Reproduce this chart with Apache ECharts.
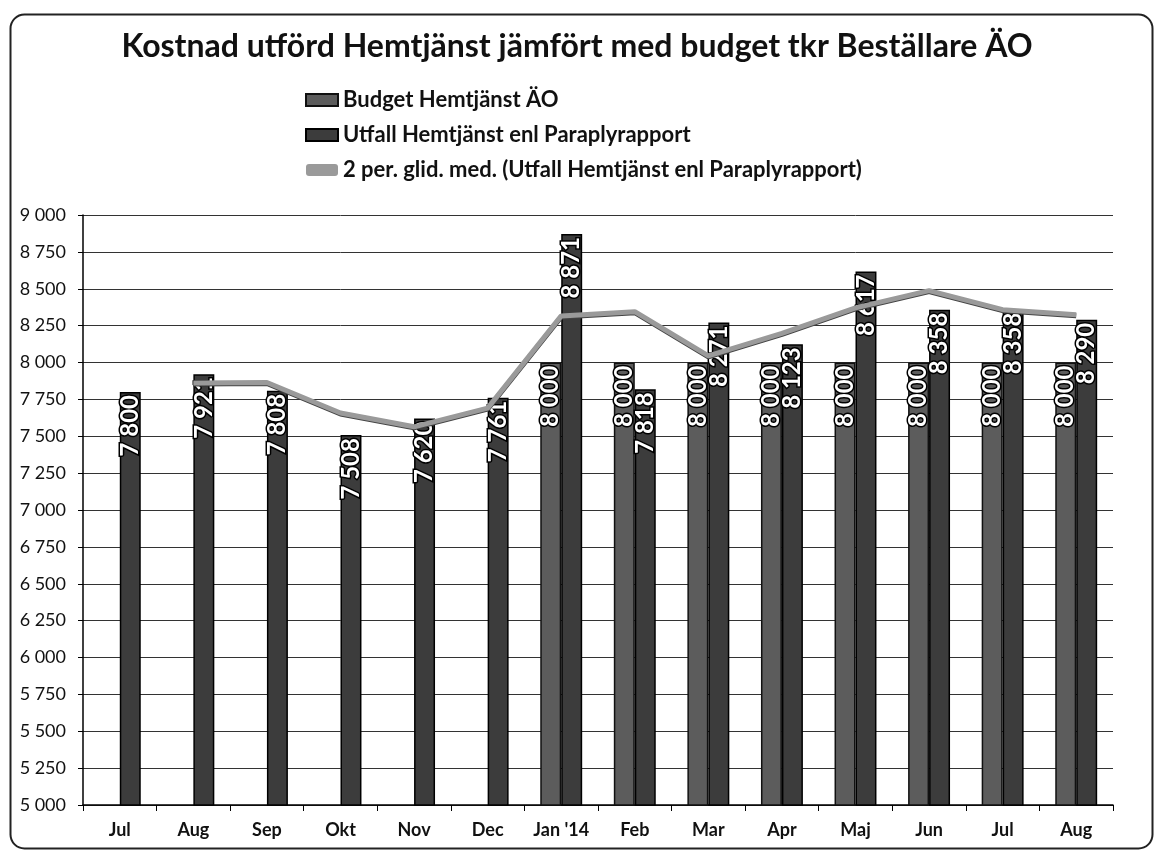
<!DOCTYPE html>
<html>
<head>
<meta charset="utf-8">
<script src="https://cdn.jsdelivr.net/npm/echarts@6/dist/echarts.min.js"></script>
<style>
html,body{margin:0;padding:0;background:#fff;}
#chart{width:1154px;height:853px;}
</style>
</head>
<body>
<div id="chart"></div>
<script>
var categories = ['Jul','Aug','Sep','Okt','Nov','Dec',"Jan '14",'Feb','Mar','Apr','Maj','Jun','Jul','Aug'];
var budget = [null,null,null,null,null,null,8000,8000,8000,8000,8000,8000,8000,8000];
var utfall = [7800,7921,7808,7508,7620,7761,8871,7818,8271,8123,8617,8358,8358,8290];
var movingAvg = [null,7860.5,7864.5,7658,7564,7690.5,8316,8344.5,8044.5,8197,8370,8487.5,8358,8324];

var FONT = 'Lato,"Noto Sans",sans-serif';
function fmt(v){ var s=String(Math.round(v)); return s.length>3 ? s.slice(0,s.length-3)+' '+s.slice(s.length-3) : s; }

var barLabel = {
  show:true, position:'insideTop', rotate:90, align:'right', verticalAlign:'middle', distance:3,
  color:'#fff', fontFamily:FONT, fontWeight:'bold', fontSize:24,
  textBorderColor:'#000', textBorderWidth:3,
  formatter:function(p){ return fmt(p.value); }
};

var chart = echarts.init(document.getElementById('chart'));
chart.setOption({
  backgroundColor:'#fff',
  animation:false,
  title:{
    text:'Kostnad utförd Hemtjänst jämfört med budget tkr Beställare ÄO',
    left:'center', top:26,
    textStyle:{fontFamily:FONT, fontWeight:'bold', fontSize:32, color:'#111'}
  },
  legend:{
    orient:'vertical', left:300, top:84, itemGap:13, itemWidth:32, itemHeight:12,
    textStyle:{fontFamily:FONT, fontWeight:'bold', fontSize:22, color:'#111'},
    data:[
      {name:'Budget Hemtjänst ÄO', icon:'rect'},
      {name:'Utfall Hemtjänst enl Paraplyrapport', icon:'rect'},
      {name:'2 per. glid. med. (Utfall Hemtjänst enl Paraplyrapport)', icon:'roundRect'}
    ]
  },
  grid:{left:83, right:41, top:215, bottom:48},
  xAxis:{
    type:'category', data:categories,
    axisLine:{lineStyle:{color:'#000', width:1.5}},
    axisTick:{show:true, length:6, lineStyle:{color:'#000'}},
    axisLabel:{fontFamily:FONT, fontWeight:'bold', fontSize:18, color:'#111', margin:16}
  },
  yAxis:{
    type:'value', min:5000, max:9000, interval:250,
    axisLine:{show:true, lineStyle:{color:'#000', width:1.5}},
    axisTick:{show:true, length:5, lineStyle:{color:'#000'}},
    axisLabel:{fontFamily:FONT, fontSize:18, color:'#111', margin:17, formatter:fmt},
    splitLine:{lineStyle:{color:'#333', width:1}}
  },
  series:[
    {name:'Budget Hemtjänst ÄO', type:'bar', data:budget, barGap:'0%', barCategoryGap:'43%',
     itemStyle:{color:'#5c5c5c', borderColor:'#111', borderWidth:1.5}, label:barLabel, z:2},
    {name:'Utfall Hemtjänst enl Paraplyrapport', type:'bar', data:utfall,
     itemStyle:{color:'#3c3c3c', borderColor:'#000', borderWidth:1.5}, label:barLabel, z:2},
    {name:'2 per. glid. med. (Utfall Hemtjänst enl Paraplyrapport)', type:'line', data:movingAvg,
     symbol:'none', connectNulls:false,
     lineStyle:{color:'#9a9a9a', width:5, shadowColor:'#444', shadowBlur:0, shadowOffsetY:1},
     itemStyle:{color:'#9a9a9a'}, z:5}
  ],
  graphic:[
    {type:'rect', left:8, top:12, shape:{width:1142, height:834, r:14}, silent:true,
     style:{fill:'none', stroke:'#222', lineWidth:2}, z:-1}
  ]
});
</script>
</body>
</html>
